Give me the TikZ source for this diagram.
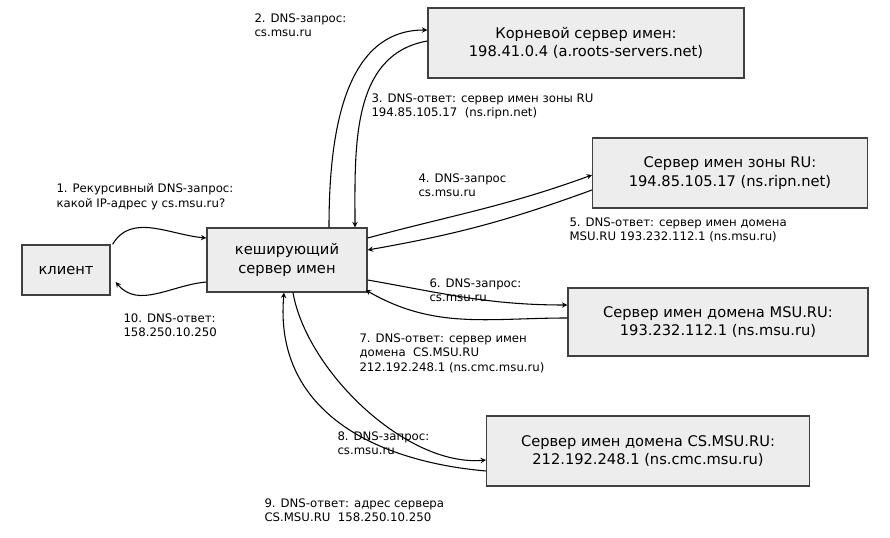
\documentclass[tikz,border=0pt]{standalone}
\usepackage{fontspec}
\setmainfont{DejaVu Sans}
\usetikzlibrary{calc}
\tikzset{every picture/.style={line width=0.75pt}}
\tikzset{
  srvbox/.style={draw=black!75,fill=black!7,line width=1pt,align=center,font=\fontsize{11}{14}\selectfont},
  msg/.style={anchor=north west,inner sep=0.75pt,align=left,font=\fontsize{8.8}{11}\selectfont},
  flow/.style={->,>=stealth,line width=0.8pt}
}
\begin{document}
\begin{tikzpicture}[x=0.75pt,y=0.75pt,yscale=-1,xscale=1]
\useasboundingbox (0,0) rectangle (890,538);

% Servers
\node[srvbox,minimum width=66pt,minimum height=37.5pt] (client) at (66,270) {клиент};
\node[srvbox,minimum width=120pt,minimum height=48pt] (cache) at (287,260) {кеширующий\\сервер имен};
\node[srvbox,minimum width=237pt,minimum height=52.5pt] (root) at (586,43) {Корневой сервер имен:\\198.41.0.4 (a.roots-servers.net)};
\node[srvbox,minimum width=206pt,minimum height=52.5pt] (ru) at (730,173) {Сервер имен зоны RU:\\194.85.105.17 (ns.ripn.net)};
\node[srvbox,minimum width=225pt,minimum height=51pt] (msu) at (718,322) {Сервер имен домена MSU.RU:\\193.232.112.1 (ns.msu.ru)};
\node[srvbox,minimum width=242pt,minimum height=52.5pt] (cs) at (648,451) {Сервер имен домена CS.MSU.RU:\\212.192.248.1 (ns.cmc.msu.ru)};

% Messages
\node[msg] (m1) at (55,182) {1. Рекурсивный DNS-запрос:\\какой IP-адрес у cs.msu.ru?};
\node[msg] (m2) at (253,12) {2. DNS-запрос:\\cs.msu.ru};
\node[msg] (m3) at (370,92) {3. DNS-ответ: сервер имен зоны RU\\194.85.105.17\ \ (ns.ripn.net)};
\node[msg] (m4) at (417,172) {4. DNS-запрос\\cs.msu.ru};
\node[msg] (m5) at (568,216) {5. DNS-ответ: сервер имен домена\\MSU.RU 193.232.112.1 (ns.msu.ru)};
\node[msg] (m6) at (428,277) {6. DNS-запрос:\\cs.msu.ru};
\node[msg] (m7) at (358,332) {7. DNS-ответ: сервер имен\\домена\ \ CS.MSU.RU\\212.192.248.1 (ns.cmc.msu.ru)};
\node[msg] (m8) at (336,430) {8. DNS-запрос:\\cs.msu.ru};
\node[msg] (m9) at (263,497) {9. DNS-ответ: адрес сервера\\CS.MSU.RU\ \ 158.250.10.250};
\node[msg] (m10) at (122,312) {10. DNS-ответ:\\158.250.10.250};

% Arrows
\draw[flow] ($(client.north east)+(2,0)$) to[out=-60,in=-175] ($(cache.west)+(0,-22)$);
\draw[flow] ($(cache.west)+(0,22)$) to[out=175,in=50] ($(client.east)+(5,12)$);
\draw[flow] ($(cache.north)+(42,0)$) to[out=-90,in=180] ($(root.west)+(0,-13)$);
\draw[flow] ($(root.west)+(0,-2)$) to[out=170,in=-90] ($(cache.north)+(68,0)$);
\draw[flow] ($(cache.east)+(0,-22)$) to[out=-15,in=160] ($(ru.west)+(0,2)$);
\draw[flow] ($(ru.west)+(0,17)$) to[out=160,in=-10] ($(cache.east)+(0,-10)$);
\draw[flow] ($(cache.east)+(0,20)$) to[out=10,in=180] ($(msu.west)+(0,-17)$);
\draw[flow] ($(msu.west)+(0,-4)$) to[out=180,in=30] ($(cache.east)+(-2,30)$);
\draw[flow] ($(cache.south)+(6,0)$) to[out=80,in=175,looseness=0.8] ($(cs.west)+(0,9)$);
\draw[flow] ($(cs.west)+(0,20)$) to[out=185,in=95,looseness=1.1] ($(cache.south)+(-3,0)$);
\end{tikzpicture}
\end{document}
